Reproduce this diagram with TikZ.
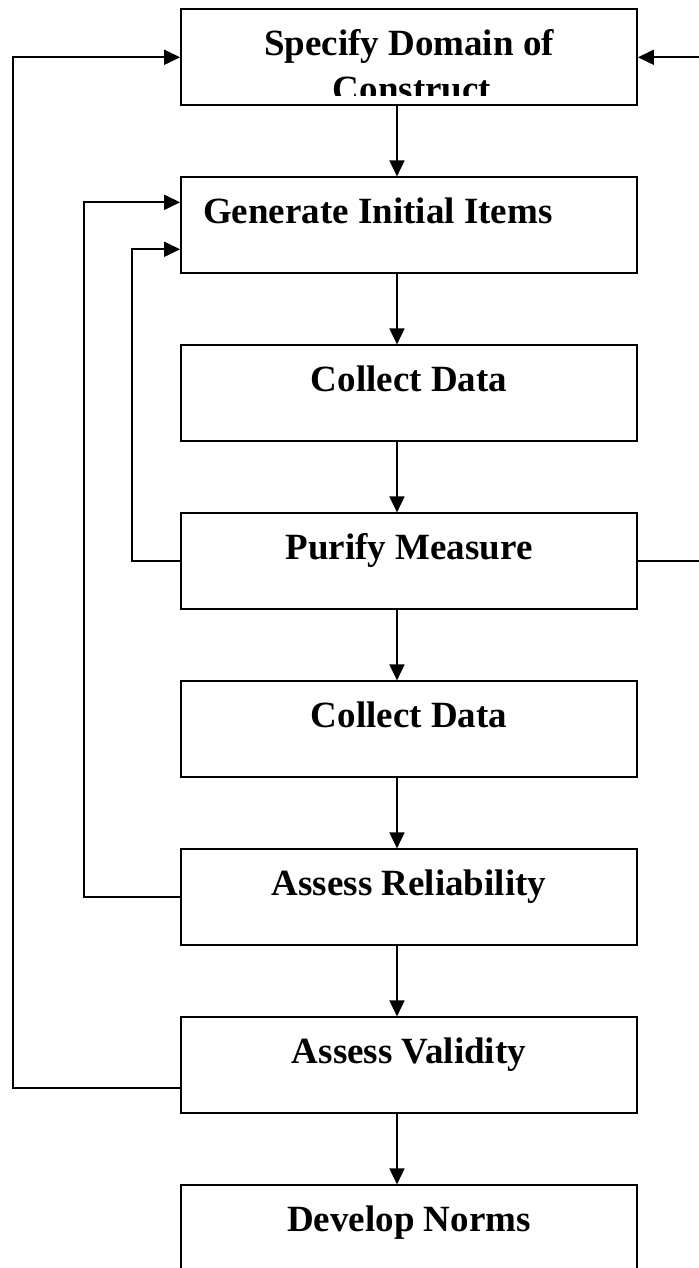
\documentclass[tikz,border=0pt]{standalone}
\usepackage{fontspec}
\setmainfont{Liberation Serif}
\usetikzlibrary{arrows.meta,positioning,calc}

\begin{document}
\begin{tikzpicture}[>={Triangle[length=8pt,width=7.5pt]},node distance=35.1pt,line width=0.9pt,
  boxfont/.style={font=\fontsize{18.5}{23.7}\selectfont\bfseries},
  stepbox/.style={draw,rectangle,boxfont,minimum width=228pt,minimum height=48pt,inner sep=0pt,text height=23.2pt,text depth=24.8pt}]
\useasboundingbox (0,0) rectangle (349.5pt,-634pt);
\node[stepbox] (dom) at (204.5pt,-28.65pt) {Specify Domain of};
\node[stepbox,below=of dom,inner xsep=11pt] (gen) {\makebox[206pt][l]{Generate Initial Items}};
\node[stepbox,below=of gen] (col1) {Collect Data};
\node[stepbox,below=of col1] (pur) {Purify Measure};
\node[stepbox,below=of pur] (col2) {Collect Data};
\node[stepbox,below=of col2] (rel) {Assess Reliability};
\node[stepbox,below=of rel] (val) {Assess Validity};
\node[stepbox,below=of val] (nor) {Develop Norms};
% second line of the first box, cut off at the bottom
\begin{scope}
\clip (dom.north west) rectangle ([yshift=5.35pt]dom.south east);
\node[boxfont,inner sep=0pt,anchor=base] (con) at ([xshift=1.5pt,yshift=-46.7pt]dom.north) {Construct};
\end{scope}
\draw[->] ([xshift=-6pt]dom.south) -- ([xshift=-6pt]gen.north);
\draw[->] ([xshift=-6pt]gen.south) -- ([xshift=-6pt]col1.north);
\draw[->] ([xshift=-6pt]col1.south) -- ([xshift=-6pt]pur.north);
\draw[->] ([xshift=-6pt]pur.south) -- ([xshift=-6pt]col2.north);
\draw[->] ([xshift=-6pt]col2.south) -- ([xshift=-6pt]rel.north);
\draw[->] ([xshift=-6pt]rel.south) -- ([xshift=-6pt]val.north);
\draw[->] ([xshift=-6pt]val.south) -- ([xshift=-6pt]nor.north);
% feedback loops
\draw[->] (pur.east) -- ++(36pt,0) |- (dom.east);
\draw[->] ([yshift=-11.5pt]val.west) -- ++(-83.6pt,0) |- (dom.west);
\draw[->] (rel.west) -- ++(-48pt,0) |- ([yshift=11.5pt]gen.west);
\draw[->] (pur.west) -- ++(-24pt,0) |- ([yshift=-12pt]gen.west);
\end{tikzpicture}
\end{document}
